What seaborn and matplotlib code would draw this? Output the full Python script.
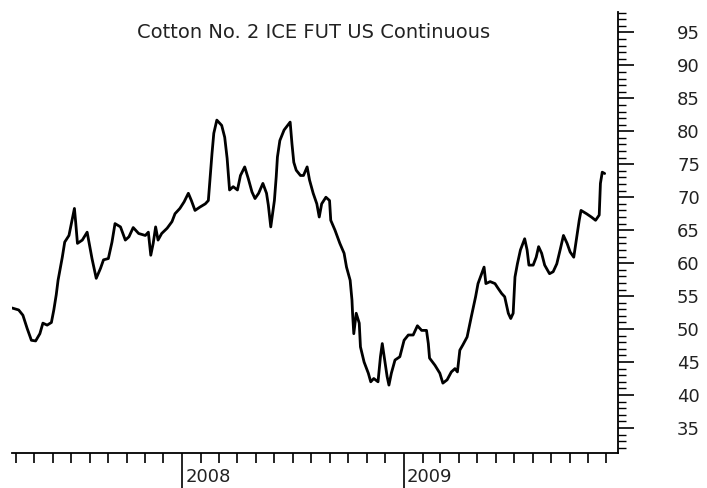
import matplotlib
matplotlib.use("Agg")
import matplotlib.pyplot as plt
import matplotlib.dates as mdates
import matplotlib.transforms as mtransforms
from matplotlib.ticker import MultipleLocator, FixedLocator, FixedFormatter
import pandas as pd
import seaborn as sns

title = "Cotton No. 2 ICE FUT US Continuous"
year_labels = ["2008", "2009"]

dates = [
    "2007-03-26", "2007-04-06", "2007-04-13", "2007-04-20", "2007-04-27", "2007-05-04",
    "2007-05-11", "2007-05-16", "2007-05-23", "2007-05-30", "2007-06-03", "2007-06-07",
    "2007-06-10", "2007-06-14", "2007-06-17", "2007-06-21", "2007-06-28", "2007-07-02",
    "2007-07-07", "2007-07-09", "2007-07-12", "2007-07-20", "2007-07-28", "2007-08-01",
    "2007-08-05", "2007-08-12", "2007-08-19", "2007-08-24", "2007-09-01", "2007-09-07",
    "2007-09-12", "2007-09-21", "2007-09-29", "2007-10-05", "2007-10-12", "2007-10-21",
    "2007-11-01", "2007-11-06", "2007-11-10", "2007-11-14", "2007-11-18", "2007-11-22",
    "2007-11-28", "2007-12-07", "2007-12-15", "2007-12-20", "2007-12-28", "2008-01-04",
    "2008-01-11", "2008-01-16", "2008-01-22", "2008-01-30", "2008-02-08", "2008-02-13",
    "2008-02-16", "2008-02-19", "2008-02-22", "2008-02-27", "2008-03-06", "2008-03-11",
    "2008-03-15", "2008-03-19", "2008-03-25", "2008-04-01", "2008-04-06", "2008-04-13",
    "2008-04-19", "2008-04-25", "2008-04-30", "2008-05-06", "2008-05-13", "2008-05-19",
    "2008-05-22", "2008-05-26", "2008-05-29", "2008-06-01", "2008-06-04", "2008-06-06",
    "2008-06-10", "2008-06-17", "2008-06-27", "2008-06-30", "2008-07-03", "2008-07-07",
    "2008-07-14", "2008-07-19", "2008-07-25", "2008-07-29", "2008-08-04", "2008-08-10",
    "2008-08-14", "2008-08-18", "2008-08-25", "2008-08-31", "2008-09-02", "2008-09-09",
    "2008-09-17", "2008-09-24", "2008-09-28", "2008-10-04", "2008-10-07", "2008-10-08",
    "2008-10-10", "2008-10-14", "2008-10-19", "2008-10-21", "2008-10-27", "2008-11-03",
    "2008-11-07", "2008-11-12", "2008-11-19", "2008-11-23", "2008-11-26", "2008-11-30",
    "2008-12-04", "2008-12-07", "2008-12-11", "2008-12-17", "2008-12-25", "2009-01-01",
    "2009-01-08", "2009-01-16", "2009-01-23", "2009-01-30", "2009-02-07", "2009-02-10",
    "2009-02-12", "2009-02-21", "2009-03-01", "2009-03-06", "2009-03-13", "2009-03-20",
    "2009-03-26", "2009-03-30", "2009-04-03", "2009-04-08", "2009-04-15", "2009-04-22",
    "2009-04-29", "2009-05-03", "2009-05-09", "2009-05-13", "2009-05-16", "2009-05-23",
    "2009-05-31", "2009-06-05", "2009-06-11", "2009-06-16", "2009-06-22", "2009-06-26",
    "2009-06-30", "2009-07-03", "2009-07-07", "2009-07-12", "2009-07-19", "2009-07-23",
    "2009-07-26", "2009-08-02", "2009-08-07", "2009-08-11", "2009-08-16", "2009-08-21",
    "2009-08-29", "2009-09-04", "2009-09-10", "2009-09-16", "2009-09-21", "2009-09-27",
    "2009-10-02", "2009-10-08", "2009-10-13", "2009-10-17", "2009-10-20", "2009-10-29",
    "2009-11-06", "2009-11-13", "2009-11-19", "2009-11-20", "2009-11-21", "2009-11-24",
    "2009-11-28",
]

prices = [
    53.2, 52.9, 52.1, 50.1, 48.3, 48.2,
    49.3, 50.9, 50.6, 51.0, 52.9, 55.2,
    57.4, 59.4, 60.9, 63.2, 64.2, 66.0,
    68.3, 66.3, 63.0, 63.5, 64.7, 62.7,
    60.7, 57.7, 59.2, 60.5, 60.7, 63.2,
    66.0, 65.5, 63.5, 64.0, 65.4, 64.5,
    64.2, 64.7, 61.2, 63.0, 65.5, 63.5,
    64.5, 65.3, 66.3, 67.5, 68.3, 69.3,
    70.6, 69.5, 68.0, 68.5, 69.0, 69.5,
    73.1, 76.6, 79.7, 81.7, 80.9, 79.1,
    75.9, 71.1, 71.6, 71.1, 73.3, 74.6,
    72.8, 70.8, 69.8, 70.6, 72.1, 70.6,
    68.8, 65.5, 67.5, 69.5, 73.1, 76.1,
    78.6, 80.2, 81.4, 78.1, 75.3, 74.1,
    73.3, 73.3, 74.6, 72.6, 70.6, 69.0,
    67.0, 69.0, 70.0, 69.5, 66.5, 65.0,
    63.0, 61.5, 59.4, 57.4, 54.4, 52.4,
    49.3, 52.4, 50.9, 47.3, 45.0, 43.3,
    42.0, 42.5, 42.0, 45.8, 47.8, 45.3,
    42.8, 41.5, 43.3, 45.3, 45.8, 48.3,
    49.1, 49.1, 50.5, 49.8, 49.8, 47.8,
    45.6, 44.5, 43.3, 41.8, 42.3, 43.5,
    44.0, 43.5, 46.8, 47.6, 48.8, 51.9,
    54.9, 56.9, 58.4, 59.4, 56.9, 57.2,
    56.9, 56.2, 55.4, 54.9, 52.4, 51.6,
    52.4, 57.9, 59.9, 62.0, 63.7, 62.0,
    59.7, 59.7, 60.9, 62.5, 61.5, 59.7,
    58.4, 58.7, 59.9, 62.2, 64.2, 63.0,
    61.7, 60.9, 64.0, 66.5, 68.0, 67.5,
    67.0, 66.5, 67.3, 69.5, 72.1, 73.8,
    73.6,
]

sns.set_style("ticks")
plt.rcParams["font.family"] = ["DejaVu Sans"]

df = pd.DataFrame({"date": pd.to_datetime(dates), "price": prices})

fig = plt.figure(figsize=(7.07, 4.88), dpi=100)
ax = fig.add_axes([12 / 707, 35 / 488, 606 / 707, 441 / 488])
sns.lineplot(data=df, x="date", y="price", ax=ax, color="black", linewidth=2.0)

ax.set_xlim(pd.Timestamp("2007-03-26"), pd.Timestamp("2009-12-20"))
ax.set_ylim(31.2, 98.1)
ax.set_xlabel("")
ax.set_ylabel("")

for s in ["left", "top"]:
    ax.spines[s].set_visible(False)
for s in ["right", "bottom"]:
    ax.spines[s].set_linewidth(1.3)
    ax.spines[s].set_color("black")

ax.yaxis.tick_right()
ax.yaxis.set_major_locator(MultipleLocator(5))
ax.yaxis.set_minor_locator(MultipleLocator(1))
ax.tick_params(axis="y", which="major", direction="out", length=11.5, width=1.2,
               pad=31, labelsize=13, colors="black", labelcolor="#222222")
ax.tick_params(axis="y", which="minor", direction="out", length=6, width=1.0, colors="black")

year_pos = mdates.date2num(pd.to_datetime([y + "-01-01" for y in year_labels]))
ax.xaxis.set_major_locator(FixedLocator(year_pos))
ax.xaxis.set_major_formatter(FixedFormatter(year_labels))
ax.xaxis.set_minor_locator(mdates.MonthLocator())
ax.tick_params(axis="x", which="major", direction="out", length=25.5, width=1.2,
               pad=-14.5, labelsize=13, colors="black", labelcolor="#222222")
ax.tick_params(axis="x", which="minor", direction="out", length=7, width=1.2, colors="black")
offset = mtransforms.ScaledTranslation(3 / 100, 0, fig.dpi_scale_trans)
for lab in ax.get_xticklabels():
    lab.set_ha("left")
    lab.set_transform(lab.get_transform() + offset)

fig.text(314 / 707, (488 - 37.5) / 488, title, ha="center", va="baseline",
         fontsize=14, color="#222222")

fig.savefig("out.png", dpi=100, facecolor="white")
